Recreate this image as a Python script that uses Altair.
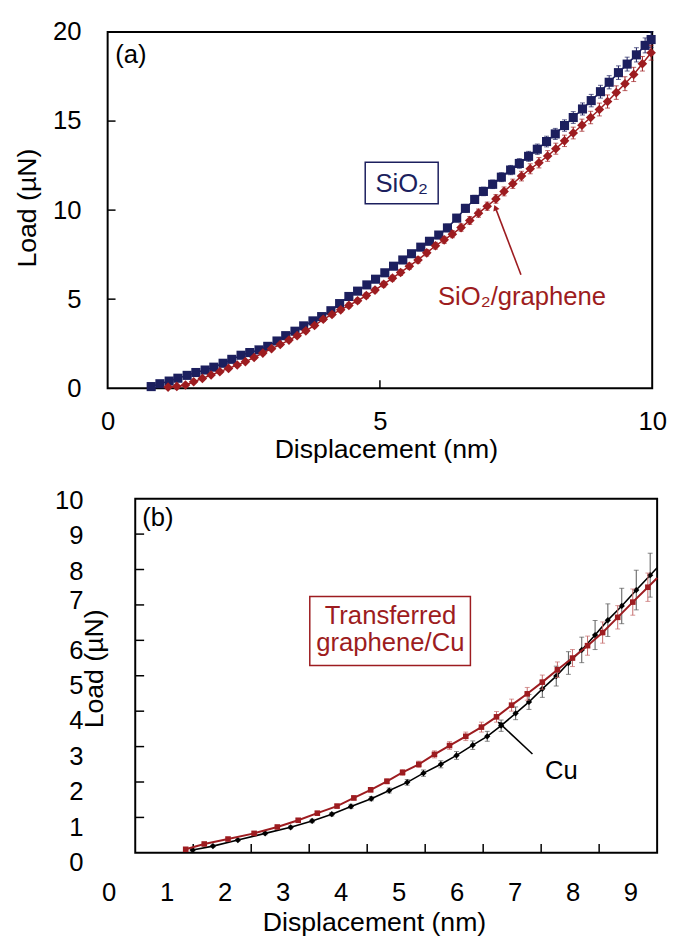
import altair as alt
import pandas as pd

FONT = "Liberation Sans"
NAVY = "#1c1f5e"
RED = "#9d1c20"
RED_ERR = "#c46a6a"
GRAY_ERR = "#555555"

# ---------------- panel (a) data ----------------
a_x_domain = [0, 10]
a_y_domain = [0, 20]
a_x_ticks = [0, 5, 10]
a_y_ticks = [0, 5, 10, 15, 20]
a_x_inner_ticks = [5]
a_y_inner_ticks = [5, 10, 15]

a_sio2_x = [0.80, 0.96, 1.13, 1.29, 1.46, 1.62, 1.79, 1.95, 2.12, 2.28,
            2.45, 2.61, 2.78, 2.94, 3.11, 3.27, 3.44, 3.60, 3.77, 3.93,
            4.10, 4.26, 4.43, 4.59, 4.76, 4.92, 5.09, 5.25, 5.42, 5.58,
            5.75, 5.91, 6.08, 6.24, 6.41, 6.57, 6.74, 6.90, 7.07, 7.23,
            7.40, 7.56, 7.73, 7.89, 8.06, 8.22, 8.39, 8.55, 8.72, 8.88,
            9.05, 9.21, 9.38, 9.54, 9.71, 9.87, 9.98]
a_sio2_y = [0.09, 0.25, 0.40, 0.56, 0.72, 0.88, 1.02, 1.18, 1.40, 1.62,
            1.85, 2.00, 2.15, 2.35, 2.65, 2.95, 3.20, 3.50, 3.78, 4.02,
            4.35, 4.75, 5.15, 5.45, 5.80, 6.12, 6.48, 6.85, 7.20, 7.55,
            7.92, 8.25, 8.60, 9.00, 9.55, 10.10, 10.60, 11.05, 11.45, 11.85,
            12.25, 12.62, 13.02, 13.42, 13.85, 14.28, 14.75, 15.20, 15.68, 16.15,
            16.65, 17.18, 17.72, 18.20, 18.72, 19.25, 19.58]
a_sio2_err = [0.08, 0.08, 0.08, 0.08, 0.08, 0.09, 0.09, 0.09, 0.09, 0.10,
              0.10, 0.10, 0.10, 0.11, 0.11, 0.11, 0.12, 0.12, 0.12, 0.13,
              0.13, 0.14, 0.14, 0.15, 0.15, 0.16, 0.16, 0.17, 0.17, 0.18,
              0.19, 0.19, 0.20, 0.21, 0.21, 0.22, 0.23, 0.24, 0.24, 0.25,
              0.26, 0.27, 0.28, 0.29, 0.30, 0.31, 0.32, 0.33, 0.34, 0.35,
              0.36, 0.37, 0.38, 0.39, 0.40, 0.42, 0.44]

a_gr_x = [1.11, 1.27, 1.43, 1.58, 1.74, 1.90, 2.06, 2.22, 2.38, 2.53,
          2.69, 2.85, 3.01, 3.17, 3.33, 3.48, 3.64, 3.80, 3.96, 4.12,
          4.28, 4.43, 4.59, 4.75, 4.91, 5.07, 5.23, 5.38, 5.54, 5.70,
          5.86, 6.02, 6.18, 6.33, 6.49, 6.65, 6.81, 6.97, 7.13, 7.28,
          7.44, 7.60, 7.76, 7.92, 8.08, 8.23, 8.39, 8.55, 8.71, 8.87,
          9.03, 9.18, 9.34, 9.50, 9.66, 9.82, 9.98]
a_gr_y = [0.06, 0.10, 0.18, 0.36, 0.55, 0.74, 0.93, 1.11, 1.30, 1.49,
          1.72, 1.97, 2.22, 2.45, 2.70, 2.95, 3.22, 3.52, 3.87, 4.14,
          4.40, 4.65, 4.91, 5.20, 5.51, 5.84, 6.18, 6.50, 6.85, 7.20,
          7.60, 8.00, 8.33, 8.65, 9.02, 9.42, 9.83, 10.22, 10.63, 11.05,
          11.48, 11.91, 12.32, 12.66, 13.04, 13.45, 13.89, 14.33, 14.77, 15.20,
          15.65, 16.10, 16.60, 17.10, 17.62, 18.22, 18.84]
a_gr_err = [0.07, 0.07, 0.07, 0.08, 0.08, 0.08, 0.08, 0.09, 0.09, 0.09,
            0.10, 0.10, 0.10, 0.11, 0.11, 0.11, 0.12, 0.12, 0.12, 0.13,
            0.13, 0.14, 0.14, 0.15, 0.15, 0.16, 0.16, 0.17, 0.17, 0.18,
            0.18, 0.19, 0.20, 0.20, 0.21, 0.22, 0.23, 0.23, 0.24, 0.25,
            0.26, 0.27, 0.28, 0.29, 0.30, 0.31, 0.32, 0.33, 0.34, 0.35,
            0.36, 0.37, 0.38, 0.39, 0.40, 0.41, 0.42]

# ---------------- panel (b) data ----------------
b_x_domain = [-0.476, 9]
b_y_domain = [0, 10]
b_frame_x = [0, 9]
b_frame_y = [0, 10]
b_x_ticks = [0, 1, 2, 3, 4, 5, 6, 7, 8, 9]
b_y_ticks = [0, 1, 2, 3, 4, 5, 6, 7, 8, 9, 10]
b_x_inner_ticks = [1, 2, 3, 4, 5, 6, 7, 8]
b_y_inner_ticks = [1, 2, 3, 4, 5, 6, 7, 8, 9]

b_gr_x = [0.87, 1.19, 1.60, 2.05, 2.45, 2.81, 3.14, 3.48, 3.77, 4.06,
          4.34, 4.61, 4.89, 5.16, 5.42, 5.70, 5.97, 6.23, 6.49, 6.76,
          7.02, 7.28, 7.54, 7.80, 8.06, 8.32, 8.58, 8.84]
b_gr_y = [0.10, 0.25, 0.39, 0.55, 0.73, 0.92, 1.12, 1.32, 1.55, 1.78,
          2.02, 2.27, 2.50, 2.78, 3.03, 3.29, 3.55, 3.84, 4.17, 4.49,
          4.82, 5.17, 5.50, 5.85, 6.22, 6.65, 7.08, 7.50]
b_gr_err = [0.03, 0.03, 0.03, 0.04, 0.04, 0.04, 0.05, 0.05, 0.06, 0.06,
            0.07, 0.08, 0.09, 0.10, 0.11, 0.12, 0.14, 0.15, 0.17, 0.18,
            0.20, 0.22, 0.24, 0.27, 0.30, 0.33, 0.37, 0.40]
b_gr_line_end = [9.0, 7.76]

b_cu_x = [0.99, 1.34, 1.77, 2.24, 2.68, 3.05, 3.39, 3.72, 4.07, 4.38,
          4.69, 4.97, 5.27, 5.54, 5.82, 6.07, 6.31, 6.56, 6.79, 7.02,
          7.26, 7.47, 7.70, 7.93, 8.15, 8.39, 8.64, 8.88]
b_cu_y = [0.08, 0.19, 0.36, 0.55, 0.72, 0.90, 1.09, 1.31, 1.53, 1.76,
          1.99, 2.25, 2.50, 2.75, 3.04, 3.29, 3.59, 3.94, 4.26, 4.63,
          4.99, 5.36, 5.73, 6.15, 6.57, 6.97, 7.42, 7.84]
b_cu_err = [0.03, 0.03, 0.03, 0.04, 0.04, 0.05, 0.05, 0.06, 0.06, 0.07,
            0.08, 0.09, 0.10, 0.11, 0.12, 0.14, 0.16, 0.18, 0.21, 0.24,
            0.28, 0.32, 0.36, 0.41, 0.46, 0.50, 0.56, 0.62]
b_cu_line_end = [9.0, 8.05]


def make_df(xs, ys, errs):
    return pd.DataFrame({
        "x": xs, "y": ys,
        "lo": [y - e for y, e in zip(ys, errs)],
        "hi": [y + e for y, e in zip(ys, errs)],
    })


class Panel:
    def __init__(self, sx, sy, ax, ay):
        self.sx, self.sy, self.ax, self.ay = sx, sy, ax, ay

    def X(self, f):
        return alt.X(f, type="quantitative", scale=self.sx, axis=self.ax)

    def Y(self, f):
        return alt.Y(f, type="quantitative", scale=self.sy, axis=self.ay)


def series_layers(P, df, line_df, color, shape, size, err_color, line_width=1.5, cap=5):
    base = alt.Chart(df)
    line = alt.Chart(line_df).mark_line(color=color, strokeWidth=line_width).encode(
        x=P.X("x"), y=P.Y("y"))
    err = base.mark_rule(color=err_color, strokeWidth=1).encode(
        x=P.X("x"), y=P.Y("lo"), y2="hi:Q")
    cap_hi = base.mark_tick(color=err_color, size=cap, thickness=1, orient="horizontal").encode(
        x=P.X("x"), y=P.Y("hi"))
    cap_lo = base.mark_tick(color=err_color, size=cap, thickness=1, orient="horizontal").encode(
        x=P.X("x"), y=P.Y("lo"))
    pts = base.mark_point(shape=shape, filled=True, size=size, color=color, opacity=1).encode(
        x=P.X("x"), y=P.Y("y"))
    return [line, err, cap_hi, cap_lo, pts]


def text_layer(P, xs_, ys_, texts, color, size=26, align="center"):
    df = pd.DataFrame({"x": xs_, "y": ys_, "t": texts})
    return alt.Chart(df).mark_text(font=FONT, fontSize=size, color=color, align=align,
                                   baseline="middle").encode(
        x=P.X("x"), y=P.Y("y"), text="t:N")


def box_layer(P, x0, x1, y0, y1, color):
    df = pd.DataFrame({"x0": [x0], "x1": [x1], "y0": [y0], "y1": [y1]})
    return alt.Chart(df).mark_rect(fillOpacity=0, stroke=color, strokeWidth=1.5).encode(
        x=P.X("x0"), x2="x1:Q", y=P.Y("y0"), y2="y1:Q")


def arrow_layers(P, tail, head, color, angle):
    df = pd.DataFrame({"x": [tail[0]], "y": [tail[1]], "x2": [head[0]], "y2": [head[1]]})
    shaft = alt.Chart(df).mark_rule(color=color, strokeWidth=1.6).encode(
        x=P.X("x"), y=P.Y("y"), x2="x2:Q", y2="y2:Q")
    hdf = pd.DataFrame({"x": [head[0]], "y": [head[1]]})
    tip = alt.Chart(hdf).mark_point(shape="triangle-up", filled=True, size=45, angle=angle,
                                    color=color, opacity=1).encode(x=P.X("x"), y=P.Y("y"))
    return [shaft, tip]


def inner_ticks(P, xvals, yvals, fx, fy, length):
    ydf = pd.DataFrame({"v": yvals, "f": [fx] * len(yvals)})
    ty = alt.Chart(ydf).mark_rule(color="black", strokeWidth=1.5, x2Offset=length).encode(
        x=P.X("f"), x2="f:Q", y=P.Y("v"))
    xdf = pd.DataFrame({"v": xvals, "f": [fy] * len(xvals)})
    tx = alt.Chart(xdf).mark_rule(color="black", strokeWidth=1.5, y2Offset=-length).encode(
        y=P.Y("f"), y2="f:Q", x=P.X("v"))
    return [ty, tx]


def frame_layer(P, fx, fy):
    df = pd.DataFrame({"x0": [fx[0]], "x1": [fx[1]], "y0": [fy[0]], "y1": [fy[1]]})
    return alt.Chart(df).mark_rect(fillOpacity=0, stroke="black", strokeWidth=2).encode(
        x=P.X("x0"), x2="x1:Q", y=P.Y("y0"), y2="y1:Q")


# ---------------- panel (a) ----------------
PA = Panel(
    alt.Scale(domain=a_x_domain, nice=False, zero=False),
    alt.Scale(domain=a_y_domain, nice=False, zero=False),
    alt.Axis(values=a_x_ticks, title="Displacement (nm)", ticks=False, tickSize=0,
             domain=False, grid=False, labelFlush=False, labelPadding=21,
             titleX=282, titleY=70, titleBaseline="alphabetic"),
    alt.Axis(values=a_y_ticks, title="Load (µN)", ticks=False, tickSize=0,
             domain=False, grid=False, labelPadding=27,
             titleX=-81, titleY=178, titleAngle=270, titleBaseline="middle",
             titleAlign="center"),
)

a_sio2 = make_df(a_sio2_x, a_sio2_y, a_sio2_err)
a_gr = make_df(a_gr_x, a_gr_y, a_gr_err)

layers_a = [frame_layer(PA, a_x_domain, a_y_domain)]
layers_a += inner_ticks(PA, a_x_inner_ticks, a_y_inner_ticks, a_x_domain[0], a_y_domain[0], 8)
layers_a += series_layers(PA, a_sio2, a_sio2, NAVY, "square", 85, NAVY)
layers_a += series_layers(PA, a_gr, a_gr, RED, "diamond", 95, RED)
layers_a.append(text_layer(PA, [0.14], [18.7], ["(a)"], "black", align="left"))
layers_a.append(box_layer(PA, 4.73, 6.07, 10.36, 12.69, NAVY))
layers_a.append(text_layer(PA, [5.40], [11.47], ["SiO₂"], NAVY))
layers_a.append(text_layer(PA, [7.61], [5.10], ["SiO₂/graphene"], RED))
layers_a += arrow_layers(PA, (7.59, 6.37), (7.12, 10.14), RED, 339)

panel_a = alt.layer(*layers_a).properties(width=552, height=361)

# ---------------- panel (b) ----------------
PB = Panel(
    alt.Scale(domain=b_x_domain, nice=False, zero=False),
    alt.Scale(domain=b_y_domain, nice=False, zero=False),
    alt.Axis(values=b_x_ticks, title="Displacement (nm)", ticks=False, tickSize=0,
             domain=False, grid=False, labelFlush=False, labelOffset=-27,
             labelPadding=27, titleX=270, titleY=79, titleBaseline="alphabetic"),
    alt.Axis(values=b_y_ticks, title="Load (µN)", ticks=False, tickSize=0,
             domain=False, grid=False, labelPadding=25,
             labelOffset={"condition": [{"test": "datum.value >= 8", "value": 2},
                                        {"test": "datum.value == 7", "value": -4}],
                          "value": 10},
             titleX=-13, titleY=172, titleAngle=270, titleBaseline="middle",
             titleAlign="center"),
)

b_gr = make_df(b_gr_x, b_gr_y, b_gr_err)
b_cu = make_df(b_cu_x, b_cu_y, b_cu_err)
b_gr_line = pd.DataFrame({"x": b_gr_x + [b_gr_line_end[0]], "y": b_gr_y + [b_gr_line_end[1]]})
b_cu_line = pd.DataFrame({"x": b_cu_x + [b_cu_line_end[0]], "y": b_cu_y + [b_cu_line_end[1]]})

layers_b = [frame_layer(PB, b_frame_x, b_frame_y)]
layers_b += inner_ticks(PB, b_x_inner_ticks, b_y_inner_ticks, b_frame_x[0], b_frame_y[0], 9)
layers_b += series_layers(PB, b_cu, b_cu_line, "black", "diamond", 40, GRAY_ERR,
                          line_width=1.6, cap=5)
layers_b += series_layers(PB, b_gr, b_gr_line, RED, "square", 32, RED_ERR,
                          line_width=2, cap=5)
layers_b.append(text_layer(PB, [0.12], [9.44], ["(b)"], "black", align="left"))
layers_b.append(box_layer(PB, 3.01, 5.78, 5.29, 7.24, RED))
layers_b.append(text_layer(PB, [4.40, 4.40], [6.69, 5.91], ["Transferred", "graphene/Cu"], RED))
layers_b.append(text_layer(PB, [7.35], [2.31], ["Cu"], "black"))
layers_b += arrow_layers(PB, (6.85, 2.79), (6.29, 3.65), "black", 312)

panel_b = alt.layer(*layers_b).properties(width=557, height=359)

chart = alt.vconcat(panel_a, panel_b, spacing=26).properties(
    padding={"left": 6, "top": 5, "right": 0, "bottom": 0}
).configure_view(strokeWidth=0).configure_axis(
    labelFont=FONT, titleFont=FONT, labelFontSize=26, titleFontSize=27,
    labelColor="black", titleColor="black", titleFontWeight="normal"
)

chart.save("out.html", embed_options={"renderer": "svg", "actions": False})
